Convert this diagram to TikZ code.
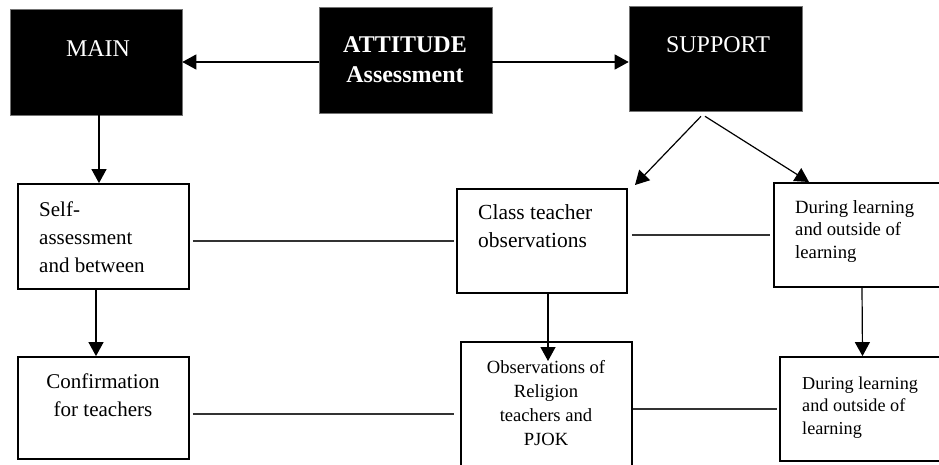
\documentclass[tikz,border=0pt]{standalone}
\usepackage{fontspec}
\setmainfont{Liberation Serif}
\usetikzlibrary{arrows.meta}
\begin{document}
\begin{tikzpicture}[x=1pt,y=-1pt,
  blk/.style={draw=black!55, line width=0.6pt, fill=black, inner sep=0pt},
  wbox/.style={draw=black, line width=1.8pt, inner sep=0pt},
  arr/.style={line width=1.2pt, -{Triangle[length=14pt,width=15pt]}},
  ln/.style={line width=1.1pt, draw=black!80},
  txt/.style={inner sep=0pt, text=black},
  wtxt/.style={inner sep=0pt, text=white}
]
\useasboundingbox (0,0) rectangle (939,464);
\clip (0,0) rectangle (939,464);
\fill[white] (0,0) rectangle (939,464);

% top black boxes
\node[blk, minimum width=172pt, minimum height=106pt] (main) at (96,62) {};
\node[blk, minimum width=173pt, minimum height=106pt] (att) at (405.5,60) {};
\node[blk, minimum width=173pt, minimum height=105pt] (sup) at (715.5,58.5) {};

% white boxes
\node[wbox, minimum width=171pt, minimum height=105pt] (self) at (103.5,236.5) {};
\node[wbox, minimum width=171pt, minimum height=102pt] (conf) at (103.5,408) {};
\node[wbox, minimum width=170pt, minimum height=104pt] (cls) at (542,241) {};
\node[wbox, minimum width=171pt, minimum height=133pt] (obs) at (546.5,408.5) {};
\node[wbox, minimum width=171pt, minimum height=104pt] (d1) at (859.5,235) {};
\node[wbox, minimum width=165pt, minimum height=104pt] (d2) at (862.5,409) {};

% texts
\node[wtxt, anchor=base, font=\fontsize{24}{30}\selectfont] (mainT) at (98,56) {MAIN};
\node[wtxt, anchor=north, align=center, font=\fontsize{24}{30}\selectfont\bfseries] (attT) at (405,35) {\rule{0pt}{17pt}ATTITUDE\\Assessment};
\node[wtxt, anchor=base, font=\fontsize{24}{30}\selectfont] (supT) at (718,52) {SUPPORT};

\node[txt, anchor=north west, align=left, font=\fontsize{21}{28}\selectfont] (selfT) at (39,200) {\rule{0pt}{16pt}Self-\\assessment\\and between};
\node[txt, anchor=north, align=center, font=\fontsize{21}{28}\selectfont] (confT) at (103,372) {\rule{0pt}{16pt}Confirmation\\for teachers};
\node[txt, anchor=north west, align=left, font=\fontsize{21.5}{28}\selectfont] (clsT) at (478,203) {\rule{0pt}{16pt}Class teacher\\observations};
\node[txt, anchor=north, align=center, font=\fontsize{18.6}{24}\selectfont] (obsT) at (546,359) {\rule{0pt}{14pt}Observations of\\Religion\\teachers and\\PJOK};
\node[txt, anchor=north west, align=left, font=\fontsize{18.7}{22.5}\selectfont] (d1T) at (795,199) {\rule{0pt}{14pt}During learning\\and outside of\\learning};
\node[txt, anchor=north west, align=left, font=\fontsize{18.2}{22.5}\selectfont] (d2T) at (802,375) {\rule{0pt}{14pt}During learning\\and outside of\\learning};

% arrows
\draw[arr] ([yshift=-2pt]att.west) -- ([yshift=-2pt]att.west -| main.east);
\draw[arr] ([yshift=-2pt]att.east) -- ([yshift=-2pt]att.east -| sup.west);
\draw[arr] ([xshift=3pt]main.south) -- ([xshift=3pt]main.south |- self.north);
\draw[arr] ([xshift=-7.5pt]self.south) -- ([xshift=-7.5pt]self.south |- conf.north);
\coordinate (obsIn) at (548,361);
\draw[arr] ([xshift=6pt]cls.south) -- (obsIn);
\draw[arr] ([xshift=2.5pt]d1.south) -- (d2.north);
\coordinate (t1) at (635,185);
\coordinate (t2) at (809,182);
\draw[arr] ([xshift=-14.5pt,yshift=-5pt]sup.south) -- (t1);
\draw[arr] ([xshift=-10.5pt,yshift=-5pt]sup.south) -- (t2);

% plain connectors
\draw[ln, shorten <=3pt, shorten >=2pt] (self.east |- cls.west) -- (cls.west);
\draw[ln, shorten <=3pt, shorten >=6pt] ([yshift=-6pt]conf.east) -- ([yshift=-6pt]conf.east -| obs.west);
\draw[ln, shorten <=4pt, shorten >=3pt] (cls.east |- d1.west) -- (d1.west);
\draw[ln, shorten >=2pt] (obs.east |- d2.west) -- (d2.west);
\end{tikzpicture}
\end{document}
